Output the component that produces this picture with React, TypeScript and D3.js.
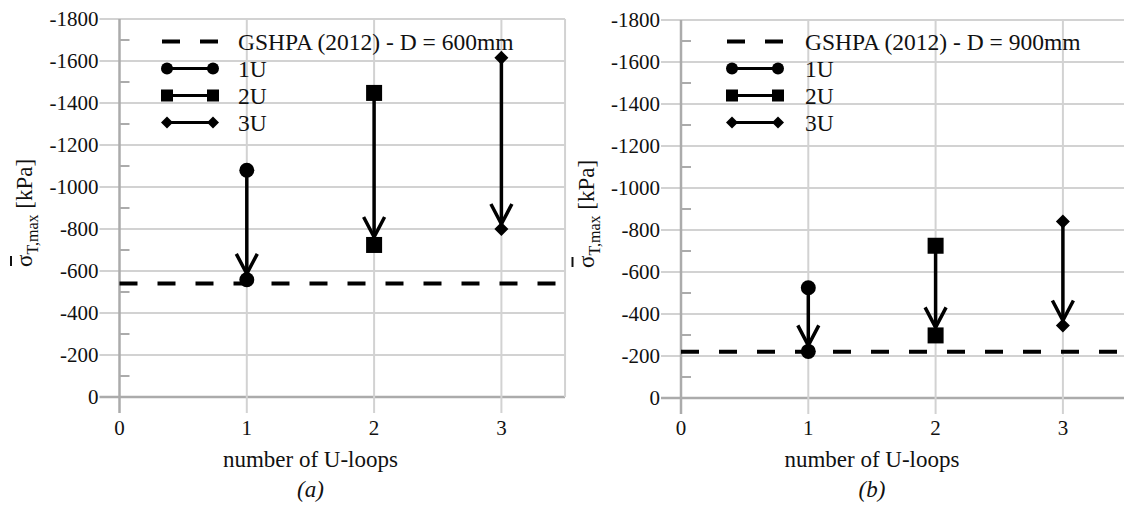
import React from "react";
import * as d3 from "d3";

// Number of U-loops on the x axis and the series shown for each
const loopCounts = [1, 2, 3];
const seriesNames = ["1U", "2U", "3U"];

// Panel (a): D = 600 mm
const startA = [-1080, -1448, -1615];
const endA = [-558, -724, -800];
const gshpaA = -540;

// Panel (b): D = 900 mm
const startB = [-525, -725, -840];
const endB = [-222, -298, -345];
const gshpaB = -220;

const yMajorTicks = [0, -200, -400, -600, -800, -1000, -1200, -1400, -1600, -1800];
const yMinorTicks = [-100, -300, -500, -700, -900, -1100, -1300, -1500, -1700];
const xTicks = [0, 1, 2, 3];

const FONT = "Liberation Serif, DejaVu Serif, serif";
const GRID = "#d2d2d2";
const AXIS = "#ababab";

type Shape = "circle" | "square" | "diamond";
const shapes: Shape[] = ["circle", "square", "diamond"];

function Marker({ shape, x, y, s }: { shape: Shape; x: number; y: number; s: number }) {
  if (shape === "circle") return <circle cx={x} cy={y} r={s} fill="#000" />;
  if (shape === "square") return <rect x={x - s} y={y - s} width={2 * s} height={2 * s} fill="#000" />;
  return <path d={`M${x},${y - s} L${x + s},${y} L${x},${y + s} L${x - s},${y} Z`} fill="#000" />;
}

function Panel({
  left,
  top,
  bottom,
  starts,
  ends,
  gshpa,
  gshpaLabel,
  caption,
  legendX,
  legendTextX,
}: {
  left: number;
  top: number;
  bottom: number;
  starts: number[];
  ends: number[];
  gshpa: number;
  gshpaLabel: string;
  caption: string;
  legendX: number;
  legendTextX: number;
}) {
  const unit = 127.3;
  const x = d3.scaleLinear().domain([0, 3.5]).range([left, left + 3.5 * unit]);
  const y = d3.scaleLinear().domain([0, -1800]).range([bottom, top]);
  const right = x(3.5);
  const midX = x(1.5);
  const tipOffset = [6, 8, 5];
  const plotSize = [7.5, 8, 7];
  const legendSize = [6, 6, 6];
  const legendRows = [41.5, 68.5, 95.5, 122.5];
  const txt = { fontFamily: FONT, fill: "#111" } as React.CSSProperties;

  return (
    <g>
      {/* grid */}
      {yMajorTicks.map((t) => (
        <line key={"gy" + t} x1={left - 20} x2={right} y1={y(t)} y2={y(t)} stroke={t === 0 ? AXIS : GRID} strokeWidth={t === 0 ? 2.5 : 2} />
      ))}
      {yMinorTicks.map((t) => (
        <line key={"my" + t} x1={left} x2={left + 10} y1={y(t)} y2={y(t)} stroke={AXIS} strokeWidth={2} />
      ))}
      {xTicks.map((t) => (
        <line key={"gx" + t} x1={x(t)} x2={x(t)} y1={top} y2={bottom + 16} stroke={t === 0 ? AXIS : GRID} strokeWidth={t === 0 ? 2.5 : 2} />
      ))}
      <line x1={right} x2={right} y1={top} y2={bottom} stroke={GRID} strokeWidth={2} />

      {/* tick labels */}
      {yMajorTicks.map((t) => (
        <text key={"ly" + t} x={left - 21} y={y(t)} dy="0.35em" textAnchor="end" style={{ ...txt, fontSize: 21 }}>
          {String(t)}
        </text>
      ))}
      {xTicks.map((t) => (
        <text key={"lx" + t} x={x(t)} y={435} textAnchor="middle" style={{ ...txt, fontSize: 21 }}>
          {String(t)}
        </text>
      ))}

      {/* axis titles */}
      <text x={midX} y={467} textAnchor="middle" style={{ ...txt, fontSize: 23 }}>
        number of U-loops
      </text>
      <text x={midX} y={497} textAnchor="middle" style={{ ...txt, fontSize: 23, fontStyle: "italic" }}>
        {caption}
      </text>
      <g transform={`translate(${left - 87.5},${(top + bottom) / 2}) rotate(-90)`}>
        <text x={-59} y={0} textAnchor="start" style={{ ...txt, fontSize: 23 }}>
          <tspan>σ</tspan>
          <tspan fontSize={16} dy={6}>T,max</tspan>
          <tspan dy={-6}> [kPa]</tspan>
        </text>
        <line x1={-58} x2={-48} y1={-21} y2={-21} stroke="#111" strokeWidth={2} />
      </g>

      {/* GSHPA reference */}
      <line x1={left} x2={right} y1={y(gshpa)} y2={y(gshpa)} stroke="#000" strokeWidth={4} strokeDasharray="18 20" />

      {/* arrows from initial to final values */}
      {loopCounts.map((n, i) => {
        const xs = x(n);
        const y0 = y(starts[i]);
        const tip = y(ends[i]) - tipOffset[i];
        return (
          <g key={"arr" + n}>
            <line x1={xs} x2={xs} y1={y0} y2={tip} stroke="#000" strokeWidth={3.5} />
            <path d={`M${xs - 10.5},${tip - 20} L${xs},${tip} L${xs + 10.5},${tip - 20}`} fill="none" stroke="#000" strokeWidth={3.5} strokeLinejoin="miter" />
            <Marker shape={shapes[i]} x={xs} y={y0} s={plotSize[i]} />
            <Marker shape={shapes[i]} x={xs} y={y(ends[i])} s={plotSize[i]} />
          </g>
        );
      })}

      {/* legend */}
      <g>
        <line x1={legendX} x2={legendX + 57} y1={legendRows[0]} y2={legendRows[0]} stroke="#000" strokeWidth={4} strokeDasharray="18 20" />
        <text x={legendTextX} y={legendRows[0]} dy="0.35em" style={{ ...txt, fontSize: 23.5 }}>
          {gshpaLabel}
        </text>
        {seriesNames.map((name, i) => {
          const ly = legendRows[i + 1];
          return (
            <g key={"lg" + name}>
              <line x1={legendX + 5} x2={legendX + 51} y1={ly} y2={ly} stroke="#000" strokeWidth={3} />
              <Marker shape={shapes[i]} x={legendX + 5} y={ly} s={legendSize[i]} />
              <Marker shape={shapes[i]} x={legendX + 51} y={ly} s={legendSize[i]} />
              <text x={legendTextX} y={ly} dy="0.35em" style={{ ...txt, fontSize: 23.5 }}>
                {name}
              </text>
            </g>
          );
        })}
      </g>
    </g>
  );
}

export default function App() {
  return (
    <svg width={1124} height={505} style={{ position: "absolute", left: 0, top: 0, background: "#fff" }}>
      <rect width={1124} height={505} fill="#fff" />
      <Panel left={119.5} top={19} bottom={397} starts={startA} ends={endA} gshpa={gshpaA} gshpaLabel="GSHPA (2012) - D = 600mm" caption="(a)" legendX={162} legendTextX={238} />
      <Panel left={681} top={20} bottom={398} starts={startB} ends={endB} gshpa={gshpaB} gshpaLabel="GSHPA (2012) - D = 900mm" caption="(b)" legendX={727} legendTextX={805} />
    </svg>
  );
}
